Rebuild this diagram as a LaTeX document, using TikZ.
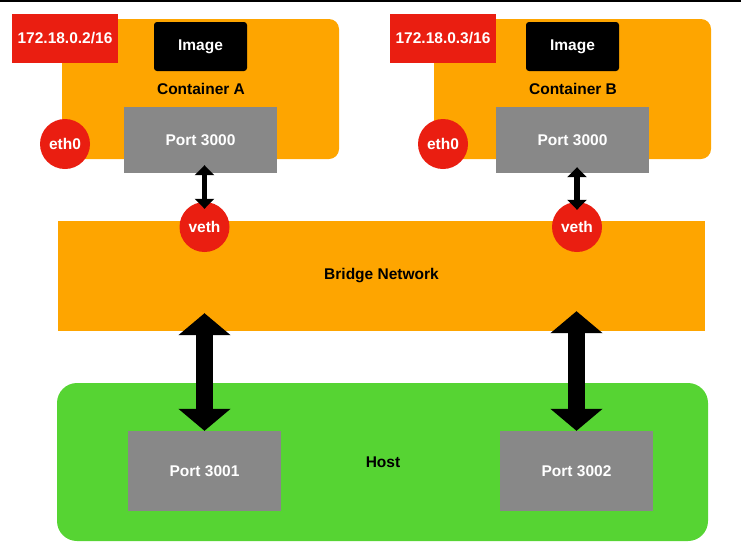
\documentclass[tikz,border=0pt]{standalone}
\usepackage{fontspec}
\setmainfont{Liberation Sans}
\usetikzlibrary{arrows.meta,calc}
\definecolor{boxorange}{RGB}{254,165,0}
\definecolor{ipred}{RGB}{234,30,17}
\definecolor{hostgreen}{RGB}{86,212,51}
\definecolor{portgray}{RGB}{136,136,136}

\begin{document}
\begin{tikzpicture}[x=1pt,y=-1pt,
	every node/.style={font=\fontsize{15.5}{18}\selectfont\bfseries, inner sep=0pt},
	container/.style={fill=boxorange, rounded corners=10pt},
	ipbox/.style={fill=ipred, text=white, minimum width=106pt, minimum height=49pt},
	imagebox/.style={fill=black, text=white, rounded corners=3pt, minimum width=93pt, minimum height=49pt},
	portbox/.style={fill=portgray, text=white, minimum width=153pt, minimum height=66pt},
	iface/.style={circle, fill=ipred, text=white, minimum size=50pt},
	smallarrow/.style={line width=5.5pt, {Triangle[width=19pt,length=10pt]}-{Triangle[width=19pt,length=10pt]}},
	bigarrow/.style={line width=17pt, {Triangle[width=51pt,length=22pt]}-{Triangle[width=51pt,length=22pt]}}]

	\useasboundingbox (0,0) rectangle (741,544);
	\draw[line width=2pt] (0,0.5) -- (741,0.5);

	% containers
	\fill[container] (62,19) rectangle (339,159);
	\fill[container] (434,19) rectangle (711,159);

	\node[ipbox] (ipA) at (65,38.5) {172.18.0.2/16};
	\node[ipbox] (ipB) at (443,38.5) {172.18.0.3/16};

	\node[imagebox] (imgA) at (200.5,46.5) {Image};
	\node[imagebox] (imgB) at (572.5,46.5) {Image};

	\node (contA) at (201,89) {Container A};
	\node (contB) at (573,89) {Container B};

	\node[portbox] (portA) at (200.5,140) {Port 3000};
	\node[portbox] (portB) at (572.5,140) {Port 3000};

	\node[iface] (ethA) at (65,144) {eth0};
	\node[iface] (ethB) at (443,144) {eth0};

	% bridge
	\node[fill=boxorange, minimum width=647pt, minimum height=110pt] (bridge) at (381.5,276) {Bridge Network};

	\node[iface] (vethA) at (204.5,227) {veth};
	\node[iface] (vethB) at (577,227) {veth};

	\draw[smallarrow, shorten <=-8pt, shorten >=-7pt] (vethA.north |- portA.south) -- (vethA.north);
	\draw[smallarrow, shorten <=-6pt, shorten >=-8pt] (vethB.north |- portB.south) -- (vethB.north);

	% host
	\fill[hostgreen, rounded corners=20pt] (57,383) rectangle (708,541);
	\node (host) at (383,462) {Host};

	\node[portbox, minimum height=80pt] (portL) at (204.5,471) {Port 3001};
	\node[portbox, minimum height=80pt] (portR) at (576.5,471) {Port 3002};

	\draw[bigarrow, shorten >=-18pt] (portL.north) -- (portL.north |- bridge.south);
	\draw[bigarrow, shorten >=-20pt] (portR.north) -- (portR.north |- bridge.south);

\end{tikzpicture}
\end{document}
